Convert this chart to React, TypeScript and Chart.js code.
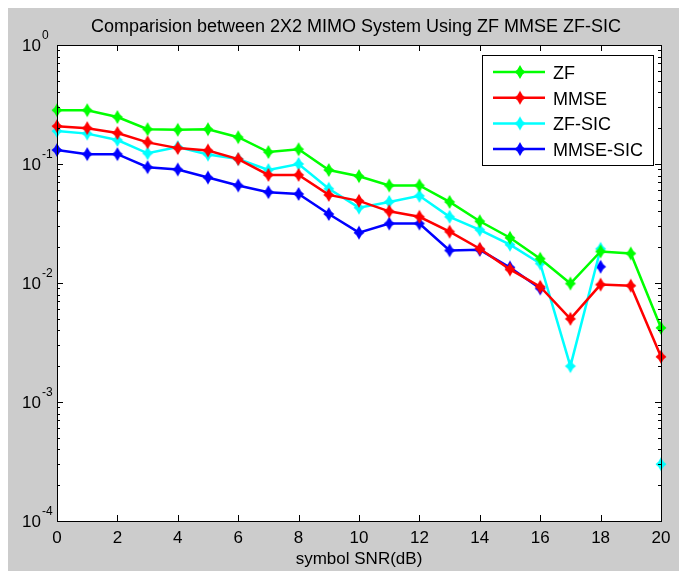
import React, { useEffect, useRef } from "react";
import { Chart, registerables } from "chart.js";

Chart.register(...registerables);

const TITLE = "Comparision between 2X2 MIMO System Using ZF MMSE ZF-SIC";
const X_LABEL = "symbol SNR(dB)";
const SNR = [0, 1, 2, 3, 4, 5, 6, 7, 8, 9, 10, 11, 12, 13, 14, 15, 16, 17, 18, 19, 20];
const X_TICKS = [0, 2, 4, 6, 8, 10, 12, 14, 16, 18, 20];
const Y_EXPONENTS = [0, -1, -2, -3, -4];

const SERIES_NAMES = ["ZF", "MMSE", "ZF-SIC", "MMSE-SIC"];
const SERIES_COLORS = ["#00ff00", "#ff0000", "#00ffff", "#0000ff"];

const ZF = [0.283, 0.283, 0.248, 0.196, 0.194, 0.196, 0.168, 0.126, 0.133, 0.089, 0.079, 0.066, 0.066, 0.048, 0.033, 0.024, 0.016, 0.0099, 0.0184, 0.0177, 0.0042];
const MMSE = [0.208, 0.2, 0.182, 0.152, 0.136, 0.13, 0.11, 0.081, 0.081, 0.055, 0.049, 0.04, 0.036, 0.027, 0.0194, 0.013, 0.0093, 0.005, 0.0097, 0.0095, 0.0024];
const ZF_SIC = [0.189, 0.18, 0.159, 0.123, 0.139, 0.12, 0.11, 0.089, 0.1, 0.062, 0.043, 0.048, 0.054, 0.036, 0.028, 0.021, 0.0146, 0.002, 0.0194, null, 0.0003];
const MMSE_SIC = [0.131, 0.121, 0.121, 0.094, 0.09, 0.077, 0.066, 0.058, 0.056, 0.038, 0.0265, 0.0316, 0.0316, 0.0188, 0.019, 0.0135, 0.009, null, 0.0137, null, null];

const SERIES = [ZF, MMSE, ZF_SIC, MMSE_SIC];

const FONT = "'Liberation Sans', Arial, Helvetica, sans-serif";
const BG = "#cccccc";
const INK = "#000000";

function makeMarker(color: string): HTMLCanvasElement {
  const c = document.createElement("canvas");
  c.width = 14;
  c.height = 16;
  const g = c.getContext("2d")!;
  const cx = 7, cy = 8;
  const inner = 2.6;
  g.beginPath();
  g.moveTo(cx, cy - 7);
  g.lineTo(cx + inner, cy - inner);
  g.lineTo(cx + 5.5, cy);
  g.lineTo(cx + inner, cy + inner);
  g.lineTo(cx, cy + 7);
  g.lineTo(cx - inner, cy + inner);
  g.lineTo(cx - 5.5, cy);
  g.lineTo(cx - inner, cy - inner);
  g.closePath();
  g.fillStyle = color;
  g.fill();
  return c;
}

const matlabPlugin = {
  id: "matlabLook",
  beforeDraw(chart: any) {
    const { ctx, chartArea: a, width, height } = chart;
    ctx.save();
    ctx.fillStyle = BG;
    ctx.fillRect(0, 0, width, height);
    ctx.fillStyle = "#ffffff";
    ctx.fillRect(a.left, a.top, a.right - a.left, a.bottom - a.top);
    ctx.restore();
  },
  afterDraw(chart: any) {
    const { ctx, chartArea: a } = chart;
    const xs = chart.scales.x;
    const ys = chart.scales.y;
    ctx.save();
    ctx.strokeStyle = INK;
    ctx.lineWidth = 1;
    ctx.strokeRect(Math.round(a.left) + 0.5, Math.round(a.top) + 0.5, Math.round(a.right - a.left), Math.round(a.bottom - a.top));
    ctx.beginPath();
    for (const t of X_TICKS) {
      const px = Math.round(xs.getPixelForValue(t)) + 0.5;
      ctx.moveTo(px, a.bottom);
      ctx.lineTo(px, a.bottom - 6);
      ctx.moveTo(px, a.top);
      ctx.lineTo(px, a.top + 6);
    }
    for (const e of Y_EXPONENTS) {
      const py = Math.round(ys.getPixelForValue(Math.pow(10, e))) + 0.5;
      ctx.moveTo(a.left, py);
      ctx.lineTo(a.left + 6, py);
      ctx.moveTo(a.right, py);
      ctx.lineTo(a.right - 6, py);
      if (e > -4) {
        for (let k = 2; k <= 9; k++) {
          const v = k * Math.pow(10, e - 1);
          const pm = Math.round(ys.getPixelForValue(v)) + 0.5;
          ctx.moveTo(a.left, pm);
          ctx.lineTo(a.left + 3, pm);
          ctx.moveTo(a.right, pm);
          ctx.lineTo(a.right - 3, pm);
        }
      }
    }
    ctx.stroke();

    ctx.fillStyle = INK;
    ctx.font = `17px ${FONT}`;
    ctx.textAlign = "center";
    ctx.textBaseline = "alphabetic";
    for (const t of X_TICKS) {
      ctx.fillText(String(t), xs.getPixelForValue(t), a.bottom + 22);
    }
    for (const e of Y_EXPONENTS) {
      const py = ys.getPixelForValue(Math.pow(10, e));
      ctx.font = `17px ${FONT}`;
      ctx.textAlign = "left";
      ctx.fillText("10", 14, py + 6);
      const w = ctx.measureText("10").width;
      ctx.font = `12px ${FONT}`;
      ctx.fillText(String(e), 14 + w + 1, py - 6);
    }
    const cx = (a.left + a.right) / 2;
    ctx.font = `18px ${FONT}`;
    ctx.textAlign = "center";
    ctx.fillText(TITLE, cx - 3, 24);
    ctx.font = `17px ${FONT}`;
    ctx.fillText(X_LABEL, cx, a.bottom + 43);

    const lx = 474, ly = 47, lw = 171, lh = 110;
    ctx.fillStyle = "#ffffff";
    ctx.fillRect(lx, ly, lw, lh);
    ctx.strokeStyle = INK;
    ctx.lineWidth = 1;
    ctx.strokeRect(lx + 0.5, ly + 0.5, lw, lh);
    chart.data.datasets.forEach((ds: any, i: number) => {
      const y = ly + 17 + i * 25.7;
      ctx.strokeStyle = ds.borderColor;
      ctx.lineWidth = 2.5;
      ctx.beginPath();
      ctx.moveTo(lx + 11, y);
      ctx.lineTo(lx + 63, y);
      ctx.stroke();
      const img = ds.pointStyle as HTMLCanvasElement;
      ctx.drawImage(img, lx + 38 - img.width / 2, y - img.height / 2);
      ctx.fillStyle = INK;
      ctx.font = `18px ${FONT}`;
      ctx.textAlign = "left";
      ctx.fillText(ds.label, lx + 71, y + 7);
    });
    ctx.restore();
  },
};

export default function App() {
  const ref = useRef<HTMLCanvasElement | null>(null);
  useEffect(() => {
    if (!ref.current) return;
    const datasets = SERIES.map((vals, i) => ({
      label: SERIES_NAMES[i],
      data: SNR.map((x, j) => ({ x, y: vals[j] })),
      borderColor: SERIES_COLORS[i],
      backgroundColor: SERIES_COLORS[i],
      borderWidth: 2.5,
      pointStyle: makeMarker(SERIES_COLORS[i]),
      pointRadius: 5,
      pointHoverRadius: 5,
      tension: 0,
      spanGaps: false,
      clip: false as any,
    }));
    const chart = new Chart(ref.current, {
      type: "line",
      data: { datasets: datasets as any },
      options: {
        animation: false,
        responsive: false,
        devicePixelRatio: 1,
        layout: { padding: { left: 49, top: 37, right: 26, bottom: 50 } },
        plugins: { legend: { display: false }, tooltip: { enabled: false }, title: { display: false } },
        scales: {
          x: { type: "linear", min: 0, max: 20, display: false },
          y: { type: "logarithmic", min: 1e-4, max: 1, display: false },
        },
      },
      plugins: [matlabPlugin],
    });
    return () => chart.destroy();
  }, []);
  return <canvas ref={ref} width={679} height={563} style={{ display: "block" }} />;
}
